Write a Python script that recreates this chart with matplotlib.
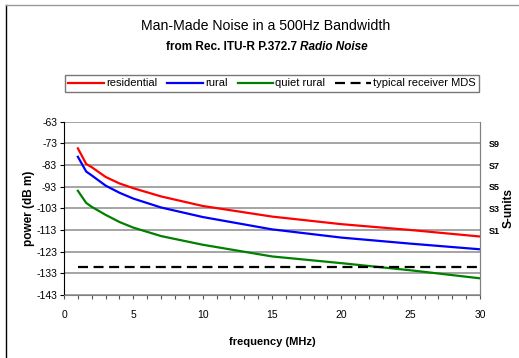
import matplotlib
matplotlib.use("Agg")
import matplotlib.pyplot as plt
from matplotlib.lines import Line2D
from matplotlib.ticker import MultipleLocator

plt.rcParams['font.family'] = ['Liberation Sans', 'DejaVu Sans']

# frequency points (MHz)
freq = [1, 1.6, 2, 3, 4, 5, 7, 10, 15, 20, 25, 30]
# noise power in 500 Hz bandwidth (dBm)
residential = [-75.3, -82.5, -84.0, -88.5, -91.5, -93.7, -97.5, -101.9, -106.8, -110.3, -113.0, -116.0]
rural = [-79.2, -86.0, -87.8, -92.5, -95.8, -98.5, -102.6, -107.0, -112.7, -116.5, -119.3, -121.9]
quiet_rural = [-94.9, -100.5, -102.3, -106.0, -109.3, -111.9, -115.8, -119.8, -125.2, -128.3, -131.6, -135.3]
mds_freq = [1, 30]
mds = [-130, -130]

y_ticks = [-63, -73, -83, -93, -103, -113, -123, -133, -143]
s_ticks = [-73, -83, -93, -103, -113]
s_labels = ['S9', 'S7', 'S5', 'S3', 'S1']

fig = plt.figure(figsize=(5.19, 3.58), dpi=100)
ax = fig.add_axes([64 / 519, 1 - 295 / 358, 416 / 519, (295 - 121.7) / 358])

ax.plot(freq, residential, color='#ff0000', lw=1.6, label='residential')
ax.plot(freq, rural, color='#0000ff', lw=1.6, label='rural')
ax.plot(freq, quiet_rural, color='#008000', lw=1.6, label='quiet rural')
ax.plot(mds_freq, mds, color='black', lw=1.6, dashes=(4.5, 2.5), label='typical receiver MDS')

ax.set_xlim(0, 30)
ax.set_ylim(-143, -63)
ax.set_yticks(y_ticks)
ax.set_yticklabels([str(v) for v in y_ticks], fontsize=7.5)
ax.xaxis.set_major_locator(MultipleLocator(5))
ax.xaxis.set_minor_locator(MultipleLocator(1))
ax.tick_params(axis='x', which='both', direction='out', length=3, width=0.8, color='#555555', labelsize=7.5, pad=8)
ax.tick_params(axis='y', direction='out', length=3, width=0.8, labelsize=7.5, pad=2)
ax.grid(axis='y', color='#8c8c8c', lw=1.1)
ax.set_axisbelow(True)
for s in ['top', 'right', 'bottom']:
    ax.spines[s].set_color('#808080')
ax.spines['left'].set_color('black')
ax.spines['top'].set_visible(False)

ax.set_xlabel('frequency (MHz)', fontsize=8, fontweight='bold', labelpad=12)
ax.set_ylabel('power (dB m)', fontsize=8.5, fontweight='bold', labelpad=1)

# S-units on the right
ax2 = ax.twinx()
ax2.set_ylim(-143, -63)
ax2.set_yticks(s_ticks)
ax2.set_yticklabels(s_labels, fontsize=6.5, fontweight='bold')
ax2.tick_params(axis='y', length=0, pad=6)
for s in ['top', 'left', 'bottom']:
    ax2.spines[s].set_visible(False)
ax2.spines['right'].set_color('#808080')
ax2.set_ylabel('S-units', fontsize=8.5, fontweight='bold', labelpad=2)

fig.text(266 / 519, 1 - 26 / 358, 'Man-Made Noise in a 500Hz Bandwidth', ha='center', va='center', fontsize=10.2)
fig.text(300 / 519, 1 - 46.5 / 358, 'from Rec. ITU-R P.372.7 ', ha='right', va='center', fontsize=8.5, fontweight='bold')
fig.text(300 / 519, 1 - 46.5 / 358, 'Radio Noise', ha='left', va='center', fontsize=8.5, fontweight='bold', style='italic')

handles, labels = ax.get_legend_handles_labels()
leg = fig.legend(handles, labels, loc='center', bbox_to_anchor=(272 / 519, 1 - 83.5 / 358), ncol=4,
                 fontsize=8, handlelength=3.2, handletextpad=0.2, columnspacing=0.9,
                 frameon=True, fancybox=False, borderpad=0.3, borderaxespad=0)
leg.get_frame().set_edgecolor('#555555')
leg.get_frame().set_linewidth(1.0)

# outer chart border
fig.add_artist(Line2D([6 / 519, 6 / 519], [0, 1 - 5 / 358], color='black', lw=1.0))
fig.add_artist(Line2D([6 / 519, 1], [1 - 5 / 358, 1 - 5 / 358], color='#999999', lw=1.0))

fig.savefig('out.png', dpi=100)
